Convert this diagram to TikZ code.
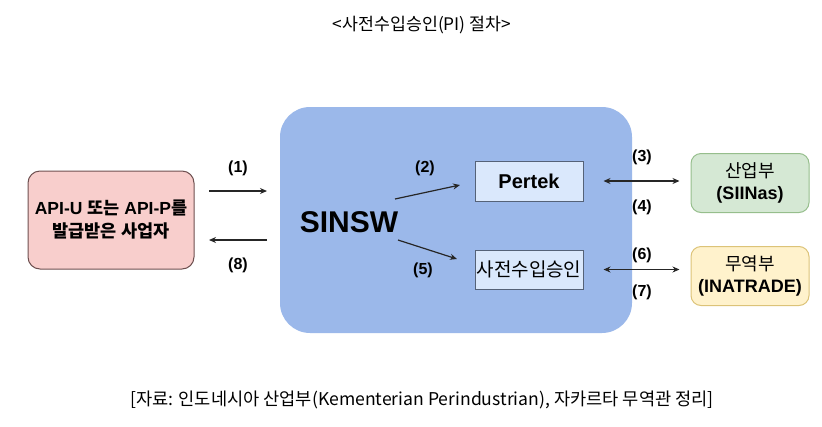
\documentclass[tikz,border=0pt]{standalone}
\usepackage{fontspec}
\setmainfont{Liberation Sans}
\newfontfamily\kr{Noto Sans CJK KR}
\usetikzlibrary{arrows.meta}
\definecolor{sinswblue}{RGB}{155,184,234}
\definecolor{pinkfill}{RGB}{248,206,204}
\definecolor{pinkline}{RGB}{110,80,80}
\definecolor{boxfill}{RGB}{218,232,252}
\definecolor{boxline}{RGB}{85,98,120}
\definecolor{greenfill}{RGB}{213,232,212}
\definecolor{greenline}{RGB}{150,190,140}
\definecolor{yellowfill}{RGB}{255,242,204}
\definecolor{yellowline}{RGB}{220,195,120}

\begin{document}
\begin{tikzpicture}[x=1pt, y=-1pt,
	arr/.style={ -{Stealth[length=7pt,width=6pt]}, line width=1.2pt, black!85 },
	arrb/.style={ {Stealth[length=7pt,width=6pt]}-{Stealth[length=7pt,width=6pt]}, line width=1.2pt, black!85 },
	num/.style={ font=\fontsize{16}{19}\selectfont\bfseries },
	step box/.style={ draw=boxline, line width=1pt, fill=boxfill, minimum width=108pt, minimum height=40pt, inner sep=0pt },
	agency/.style={ rounded corners=10pt, line width=1pt, minimum width=118pt, minimum height=59pt, align=center, inner sep=0pt, font=\fontsize{18}{22}\selectfont\bfseries }
]
\useasboundingbox (0,0) rectangle (822,426);

% title and source
\node[font=\kr\fontsize{17.3}{20}\selectfont] (title) at (422,25) {<사전수입승인(PI) 절차>};
\node[font=\kr\fontsize{17.6}{20}\selectfont] (src) at (422,400) {[자료: 인도네시아 산업부(Kementerian Perindustrian), 자카르타 무역관 정리]};

% boxes
\node[draw=pinkline, fill=pinkfill, line width=1pt, rounded corners=12pt, minimum width=166pt, minimum height=98pt, align=center, inner sep=0pt,
	font=\fontsize{17.5}{23}\selectfont\bfseries] (firm) at (111,220) {API-U {\kr 또는} API-P{\kr 를}\\{\kr 발급받은 사업자}};
\fill[sinswblue, rounded corners=30pt] (280,107) rectangle (632,333);
\node[font=\fontsize{30}{34}\selectfont\bfseries] (sinsw) at (349,222) {SINSW};
\node[step box, font=\fontsize{20}{24}\selectfont\bfseries] (pertek) at (529,181) {Pertek};
\node[step box, minimum height=39pt, font=\kr\fontsize{19}{22}\selectfont] (pi) at (529,269.5) {사전수입승인};
\node[agency, draw=greenline, fill=greenfill] (siinas) at (750,183) {{\kr\mdseries 산업부}\\(SIINas)};
\node[agency, draw=yellowline, fill=yellowfill] (inatrade) at (750,276) {{\kr\mdseries 무역부}\\(INATRADE)};

% connectors
\coordinate (a1) at (209,191);
\coordinate (b1) at (267,191);
\coordinate (a8) at (267,240);
\coordinate (b8) at (209,240);
\coordinate (a2) at (395,199);
\coordinate (b2) at (460,185);
\coordinate (a5) at (398,240);
\coordinate (b5) at (457,259);
\draw[arr] (a1) -- (b1);
\draw[arr] (a8) -- (b8);
\draw[arr] (a2) -- (b2);
\draw[arr] (a5) -- (b5);
\draw[arrb] ([xshift=20pt]pertek.east) -- ([xshift=-11pt]pertek.east -| siinas.west);
\draw[arrb] ([xshift=20pt]pi.east) -- ([xshift=-11pt]pi.east -| inatrade.west);

% step numbers
\node[num] (n1) at (238,168) {(1)};
\node[num] (n2) at (425,168) {(2)};
\node[num] (n3) at (642,157) {(3)};
\node[num] (n4) at (642,207) {(4)};
\node[num] (n5) at (423,270) {(5)};
\node[num] (n6) at (642,255) {(6)};
\node[num] (n7) at (642,292) {(7)};
\node[num] (n8) at (238,265) {(8)};

\end{tikzpicture}
\end{document}
